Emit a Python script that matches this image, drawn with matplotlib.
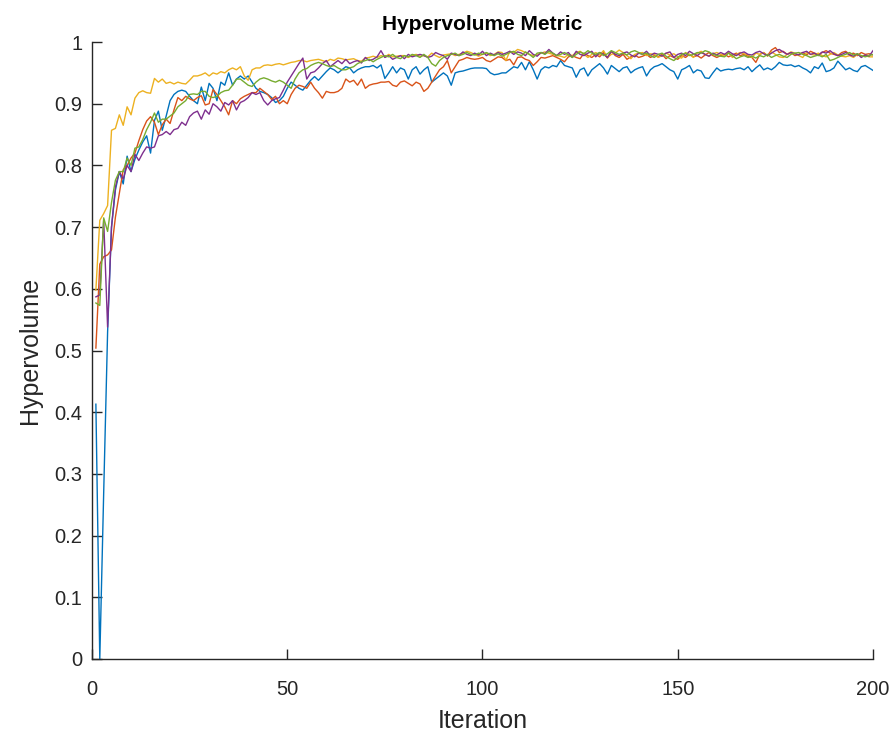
import matplotlib
matplotlib.use('Agg')
import matplotlib.pyplot as plt
from matplotlib.ticker import FuncFormatter

plt.rcParams['font.family'] = ['Liberation Sans', 'DejaVu Sans']

iterations = list(range(1, 201))

# hypervolume per run (5 runs, 200 iterations each)
run_blue = [
    0.413, 0.000, 0.270, 0.530, 0.700, 0.760, 0.790, 0.770, 0.815, 0.790, 0.810, 0.825, 0.838, 0.848, 0.820, 0.873, 0.888, 0.857, 0.880, 0.905,
    0.915, 0.920, 0.922, 0.920, 0.912, 0.905, 0.900, 0.927, 0.905, 0.933, 0.925, 0.905, 0.935, 0.930, 0.950, 0.930, 0.940, 0.945, 0.940, 0.945,
    0.935, 0.925, 0.920, 0.918, 0.915, 0.910, 0.902, 0.905, 0.912, 0.925, 0.935, 0.930, 0.925, 0.922, 0.930, 0.938, 0.944, 0.938, 0.945, 0.952,
    0.958, 0.955, 0.950, 0.955, 0.960, 0.958, 0.950, 0.955, 0.958, 0.960, 0.960, 0.962, 0.958, 0.963, 0.941, 0.950, 0.960, 0.950, 0.958, 0.955,
    0.940, 0.955, 0.960, 0.948, 0.955, 0.960, 0.935, 0.940, 0.945, 0.950, 0.945, 0.930, 0.950, 0.952, 0.953, 0.955, 0.957, 0.958, 0.958, 0.958,
    0.957, 0.950, 0.947, 0.948, 0.950, 0.950, 0.955, 0.960, 0.958, 0.967, 0.955, 0.968, 0.955, 0.940, 0.955, 0.960, 0.958, 0.962, 0.960, 0.970,
    0.962, 0.960, 0.958, 0.943, 0.955, 0.958, 0.945, 0.955, 0.960, 0.965, 0.958, 0.948, 0.962, 0.957, 0.952, 0.958, 0.960, 0.950, 0.955, 0.958,
    0.960, 0.945, 0.955, 0.960, 0.962, 0.965, 0.960, 0.955, 0.952, 0.940, 0.955, 0.958, 0.962, 0.950, 0.955, 0.953, 0.942, 0.941, 0.950, 0.958,
    0.953, 0.955, 0.956, 0.955, 0.957, 0.958, 0.955, 0.960, 0.952, 0.958, 0.963, 0.955, 0.958, 0.955, 0.960, 0.967, 0.963, 0.962, 0.963, 0.960,
    0.962, 0.958, 0.955, 0.950, 0.960, 0.957, 0.966, 0.952, 0.954, 0.958, 0.969, 0.962, 0.955, 0.958, 0.954, 0.952, 0.960, 0.962, 0.958, 0.954,
]
run_orange = [
    0.504, 0.640, 0.652, 0.655, 0.663, 0.716, 0.755, 0.793, 0.800, 0.812, 0.820, 0.840, 0.858, 0.872, 0.879, 0.870, 0.850, 0.866, 0.875, 0.868,
    0.890, 0.910, 0.905, 0.912, 0.908, 0.905, 0.910, 0.913, 0.898, 0.900, 0.923, 0.915, 0.905, 0.895, 0.882, 0.905, 0.900, 0.908, 0.912, 0.915,
    0.918, 0.918, 0.925, 0.920, 0.915, 0.907, 0.912, 0.900, 0.905, 0.900, 0.915, 0.925, 0.930, 0.928, 0.925, 0.935, 0.925, 0.918, 0.909, 0.920,
    0.918, 0.918, 0.920, 0.925, 0.940, 0.935, 0.938, 0.930, 0.940, 0.925, 0.930, 0.932, 0.933, 0.935, 0.935, 0.936, 0.930, 0.928, 0.935, 0.937,
    0.933, 0.929, 0.935, 0.932, 0.920, 0.925, 0.935, 0.945, 0.955, 0.960, 0.970, 0.950, 0.960, 0.970, 0.972, 0.975, 0.973, 0.972, 0.973, 0.975,
    0.970, 0.968, 0.972, 0.976, 0.975, 0.970, 0.972, 0.963, 0.975, 0.976, 0.972, 0.970, 0.962, 0.968, 0.975, 0.974, 0.976, 0.978, 0.975, 0.972,
    0.968, 0.976, 0.978, 0.975, 0.973, 0.982, 0.978, 0.975, 0.980, 0.976, 0.983, 0.974, 0.985, 0.978, 0.975, 0.980, 0.972, 0.976, 0.979, 0.975,
    0.977, 0.980, 0.975, 0.978, 0.976, 0.980, 0.973, 0.978, 0.975, 0.972, 0.978, 0.975, 0.980, 0.976, 0.978, 0.974, 0.979, 0.983, 0.978, 0.975,
    0.978, 0.980, 0.976, 0.979, 0.982, 0.978, 0.980, 0.977, 0.975, 0.967, 0.980, 0.983, 0.978, 0.987, 0.991, 0.983, 0.985, 0.980, 0.983, 0.978,
    0.980, 0.983, 0.979, 0.985, 0.982, 0.980, 0.983, 0.986, 0.982, 0.980, 0.978, 0.983, 0.985, 0.980, 0.982, 0.978, 0.983, 0.980, 0.981, 0.979,
]
run_yellow = [
    0.598, 0.711, 0.722, 0.735, 0.857, 0.860, 0.882, 0.865, 0.895, 0.882, 0.909, 0.918, 0.921, 0.918, 0.917, 0.941, 0.935, 0.940, 0.933, 0.935,
    0.932, 0.935, 0.933, 0.932, 0.938, 0.945, 0.945, 0.947, 0.950, 0.945, 0.950, 0.948, 0.952, 0.950, 0.955, 0.958, 0.955, 0.960, 0.945, 0.938,
    0.955, 0.958, 0.958, 0.962, 0.963, 0.962, 0.964, 0.965, 0.963, 0.965, 0.967, 0.968, 0.970, 0.970, 0.968, 0.970, 0.971, 0.972, 0.970, 0.968,
    0.972, 0.970, 0.974, 0.973, 0.971, 0.972, 0.973, 0.970, 0.969, 0.974, 0.975, 0.977, 0.975, 0.978, 0.976, 0.980, 0.976, 0.977, 0.978, 0.978,
    0.975, 0.978, 0.980, 0.977, 0.978, 0.976, 0.982, 0.978, 0.975, 0.979, 0.980, 0.981, 0.978, 0.980, 0.982, 0.985, 0.983, 0.980, 0.977, 0.980,
    0.982, 0.978, 0.980, 0.984, 0.983, 0.970, 0.985, 0.983, 0.988, 0.986, 0.983, 0.980, 0.978, 0.979, 0.982, 0.984, 0.982, 0.980, 0.978, 0.977,
    0.975, 0.980, 0.978, 0.983, 0.985, 0.980, 0.975, 0.980, 0.983, 0.979, 0.986, 0.975, 0.980, 0.982, 0.987, 0.983, 0.978, 0.973, 0.980, 0.982,
    0.983, 0.978, 0.981, 0.980, 0.975, 0.978, 0.982, 0.979, 0.981, 0.976, 0.974, 0.983, 0.980, 0.975, 0.982, 0.985, 0.980, 0.977, 0.981, 0.983,
    0.980, 0.978, 0.983, 0.975, 0.980, 0.983, 0.981, 0.979, 0.975, 0.982, 0.980, 0.983, 0.977, 0.984, 0.980, 0.976, 0.975, 0.980, 0.984, 0.982,
    0.978, 0.975, 0.983, 0.980, 0.979, 0.982, 0.978, 0.976, 0.980, 0.983, 0.979, 0.977, 0.976, 0.978, 0.975, 0.980, 0.977, 0.978, 0.976, 0.976,
]
run_purple = [
    0.587, 0.590, 0.712, 0.538, 0.700, 0.765, 0.790, 0.778, 0.800, 0.790, 0.818, 0.808, 0.820, 0.830, 0.828, 0.830, 0.848, 0.850, 0.855, 0.850,
    0.858, 0.860, 0.870, 0.865, 0.879, 0.885, 0.888, 0.875, 0.890, 0.883, 0.900, 0.895, 0.888, 0.902, 0.898, 0.905, 0.890, 0.902, 0.905, 0.910,
    0.918, 0.915, 0.918, 0.905, 0.898, 0.905, 0.908, 0.910, 0.922, 0.935, 0.945, 0.955, 0.965, 0.974, 0.940, 0.950, 0.952, 0.958, 0.965, 0.970,
    0.960, 0.965, 0.970, 0.965, 0.972, 0.965, 0.968, 0.970, 0.966, 0.975, 0.970, 0.972, 0.976, 0.986, 0.975, 0.978, 0.972, 0.975, 0.978, 0.973,
    0.980, 0.976, 0.978, 0.980, 0.978, 0.975, 0.977, 0.983, 0.980, 0.978, 0.972, 0.982, 0.980, 0.978, 0.984, 0.980, 0.978, 0.982, 0.979, 0.985,
    0.978, 0.982, 0.979, 0.983, 0.980, 0.982, 0.985, 0.980, 0.984, 0.982, 0.978, 0.986, 0.980, 0.977, 0.983, 0.981, 0.988, 0.982, 0.978, 0.984,
    0.980, 0.983, 0.975, 0.985, 0.980, 0.978, 0.982, 0.985, 0.976, 0.983, 0.980, 0.975, 0.985, 0.980, 0.978, 0.982, 0.984, 0.979, 0.976, 0.982,
    0.980, 0.985, 0.978, 0.982, 0.980, 0.977, 0.982, 0.984, 0.975, 0.980, 0.982, 0.978, 0.985, 0.981, 0.978, 0.983, 0.980, 0.977, 0.982, 0.979,
    0.983, 0.980, 0.985, 0.981, 0.978, 0.982, 0.984, 0.980, 0.979, 0.983, 0.985, 0.981, 0.978, 0.982, 0.986, 0.988, 0.984, 0.980, 0.983, 0.981,
    0.979, 0.983, 0.985, 0.980, 0.982, 0.978, 0.984, 0.982, 0.986, 0.981, 0.978, 0.980, 0.983, 0.979, 0.977, 0.981, 0.975, 0.979, 0.977, 0.986,
]
run_green = [
    0.577, 0.573, 0.715, 0.693, 0.740, 0.776, 0.790, 0.790, 0.812, 0.800, 0.828, 0.830, 0.842, 0.858, 0.870, 0.885, 0.870, 0.875, 0.875, 0.880,
    0.885, 0.895, 0.900, 0.905, 0.915, 0.916, 0.915, 0.920, 0.920, 0.912, 0.910, 0.912, 0.918, 0.921, 0.922, 0.930, 0.940, 0.940, 0.935, 0.930,
    0.928, 0.935, 0.940, 0.942, 0.940, 0.937, 0.935, 0.938, 0.935, 0.930, 0.925, 0.940, 0.950, 0.955, 0.957, 0.962, 0.965, 0.967, 0.965, 0.962,
    0.960, 0.962, 0.958, 0.955, 0.955, 0.958, 0.960, 0.965, 0.968, 0.970, 0.972, 0.968, 0.972, 0.975, 0.978, 0.976, 0.980, 0.975, 0.973, 0.978,
    0.976, 0.980, 0.978, 0.975, 0.980, 0.975, 0.965, 0.961, 0.970, 0.975, 0.978, 0.980, 0.982, 0.978, 0.980, 0.983, 0.980, 0.979, 0.982, 0.980,
    0.983, 0.980, 0.978, 0.981, 0.977, 0.980, 0.983, 0.985, 0.980, 0.978, 0.984, 0.980, 0.975, 0.982, 0.983, 0.980, 0.985, 0.982, 0.978, 0.980,
    0.983, 0.979, 0.975, 0.980, 0.984, 0.981, 0.986, 0.982, 0.980, 0.983, 0.978, 0.981, 0.986, 0.983, 0.980, 0.982, 0.979, 0.984, 0.986, 0.983,
    0.980, 0.982, 0.978, 0.975, 0.980, 0.982, 0.977, 0.973, 0.970, 0.975, 0.980, 0.982, 0.978, 0.980, 0.983, 0.982, 0.986, 0.984, 0.980, 0.978,
    0.977, 0.976, 0.982, 0.978, 0.973, 0.976, 0.978, 0.975, 0.977, 0.974, 0.978, 0.976, 0.980, 0.975, 0.978, 0.980, 0.977, 0.975, 0.980, 0.982,
    0.983, 0.980, 0.978, 0.975, 0.977, 0.979, 0.976, 0.980, 0.970, 0.972, 0.975, 0.978, 0.980, 0.983, 0.979, 0.981, 0.978, 0.976, 0.978, 0.980,
]

runs = [run_blue, run_orange, run_yellow, run_purple, run_green]
colors = ['#0072BD', '#D95319', '#EDB120', '#7E2F8E', '#77AC30']

x_ticks = [0, 50, 100, 150, 200]
y_ticks = [0, 0.1, 0.2, 0.3, 0.4, 0.5, 0.6, 0.7, 0.8, 0.9, 1.0]

fig = plt.figure(figsize=(8.93, 7.31), dpi=100)
ax = fig.add_axes([0.103, 0.0985, 0.8746, 0.844])

for vals, c in zip(runs, colors):
    ax.plot(iterations, vals, color=c, linewidth=1.0)

ax.set_xlim(0, 200)
ax.set_ylim(0, 1)
ax.set_xticks(x_ticks)
ax.set_yticks(y_ticks)
ax.yaxis.set_major_formatter(FuncFormatter(lambda v, p: '%g' % v))

# matlab-ish axes: only left/bottom, ticks pointing in
for side in ['top', 'right']:
    ax.spines[side].set_visible(False)
for side in ['left', 'bottom']:
    ax.spines[side].set_color('#262626')
    ax.spines[side].set_linewidth(1.0)
ax.tick_params(direction='in', length=7, width=1.0, colors='#262626',
               labelsize=14.5)
ax.tick_params(axis='x', pad=15)
ax.tick_params(axis='y', pad=7)

ax.set_xlabel('Iteration', fontsize=18, color='#262626', labelpad=7)
ax.set_ylabel('Hypervolume', fontsize=18, color='#262626', labelpad=9)
ax.set_title('Hypervolume Metric', fontsize=15, fontweight='bold', pad=9)

fig.savefig('out.png', dpi=100)
